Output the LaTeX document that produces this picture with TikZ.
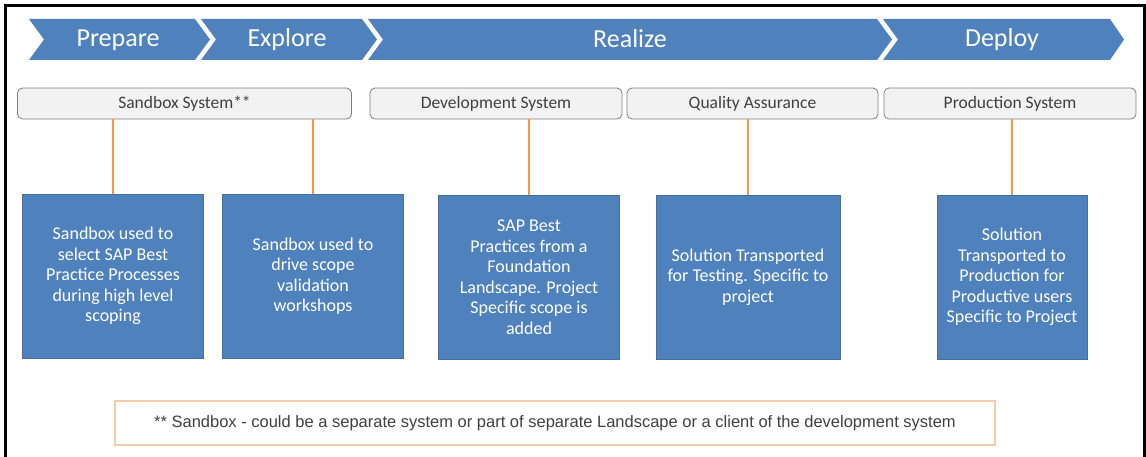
\documentclass[tikz,border=0pt]{standalone}
\usepackage{fontspec}
\setmainfont{Carlito}
\newfontfamily\notefont{Liberation Sans}
\definecolor{phaseblue}{HTML}{4F81BD}
\definecolor{boxedge}{HTML}{41719C}
\definecolor{sysgray}{HTML}{F2F2F2}
\definecolor{sysedge}{HTML}{7F7F7F}
\definecolor{linkorange}{HTML}{F79646}
\definecolor{noteorange}{HTML}{F8CBAD}
\definecolor{textgray}{HTML}{404040}
\tikzset{
    phase/.style={text=white, font=\fontsize{26}{30}\selectfont, anchor=base},
    system/.style={draw=sysedge, fill=sysgray, rounded corners=5pt, line width=0.8pt,
        minimum height=31pt, text=textgray, font=\fontsize{17.5}{20}\selectfont},
    detail/.style={draw=boxedge, fill=phaseblue, line width=0.8pt, minimum height=164pt,
        text=white, align=center, font=\fontsize{18}{20.5}\selectfont},
    link/.style={draw=linkorange, line width=2pt}
}
\begin{document}
\begin{tikzpicture}[x=1pt, y=-1pt]
                    \useasboundingbox (0,0) rectangle (1146,457);
                    \fill[white] (0,0) rectangle (1146,457);
                    \draw[line width=3pt] (5,457) -- (5,6) -- (1144,6) -- (1144,457);
                    \fill[phaseblue] (29,19) -- (195,19) -- (210,39.5) -- (195,60) -- (29,60) -- (44,39.5) -- cycle; \node[phase] (prepare) at (118,47) {Prepare};
                    \fill[phaseblue] (201,19) -- (362,19) -- (377,39.5) -- (362,60) -- (201,60) -- (216,39.5) -- cycle; \node[phase] (explore) at (287,47) {Explore};
                    \fill[phaseblue] (368,19) -- (877,19) -- (892,39.5) -- (877,60) -- (368,60) -- (383,39.5) -- cycle; \node[phase] (realize) at (630,48) {Realize};
                    \fill[phaseblue] (883,19) -- (1110,19) -- (1124,39.5) -- (1110,60) -- (883,60) -- (898,39.5) -- cycle; \node[phase] (deploy) at (1002,47) {Deploy};

                    \node[system, minimum width=334pt] (sandbox) at (184.5,103.5) {Sandbox System**};
                    \node[system, minimum width=252pt] (dev) at (496,103.5) {Development System};
                    \node[system, minimum width=251pt] (qa) at (752.5,103.5) {Quality Assurance};
                    \node[system, minimum width=252pt] (prod) at (1010,103.5) {Production System};

                    \node[detail, minimum width=181pt] (scoping) at (113,276) {Sandbox used to\\select SAP Best\\Practice Processes\\during high level\\scoping};
                    \node[detail, minimum width=181pt] (workshops) at (313,276) {Sandbox used to\\drive scope\\validation\\workshops};
                    \node[detail, minimum width=181pt] (bestpractice) at (529,277) {SAP Best\\Practices from a\\Foundation\\Landscape. Project\\Specific scope is\\added};
                    \node[detail, minimum width=184pt] (testing) at (748,277) {Solution Transported\\for Testing. Specific to\\project};
                    \node[detail, minimum width=150pt] (production) at (1012,277) {Solution\\Transported to\\Production for\\Productive users\\Specific to Project};

                    \draw[link] (scoping.north) -- (scoping.north |- sandbox.south);
                    \draw[link] (workshops.north) -- (workshops.north |- sandbox.south);
                    \draw[link] (bestpractice.north) -- (bestpractice.north |- dev.south);
                    \draw[link] (testing.north) -- (testing.north |- qa.south);
                    \draw[link] (production.north) -- (production.north |- prod.south);

                    \node[draw=noteorange, line width=1.2pt, minimum width=880pt, minimum height=44pt, text=textgray, font=\notefont\fontsize{16.5}{19}\selectfont] (note) at (555,423) {** Sandbox - could be a separate system or part of separate Landscape or a client of the development system};
                \end{tikzpicture}
\end{document}
